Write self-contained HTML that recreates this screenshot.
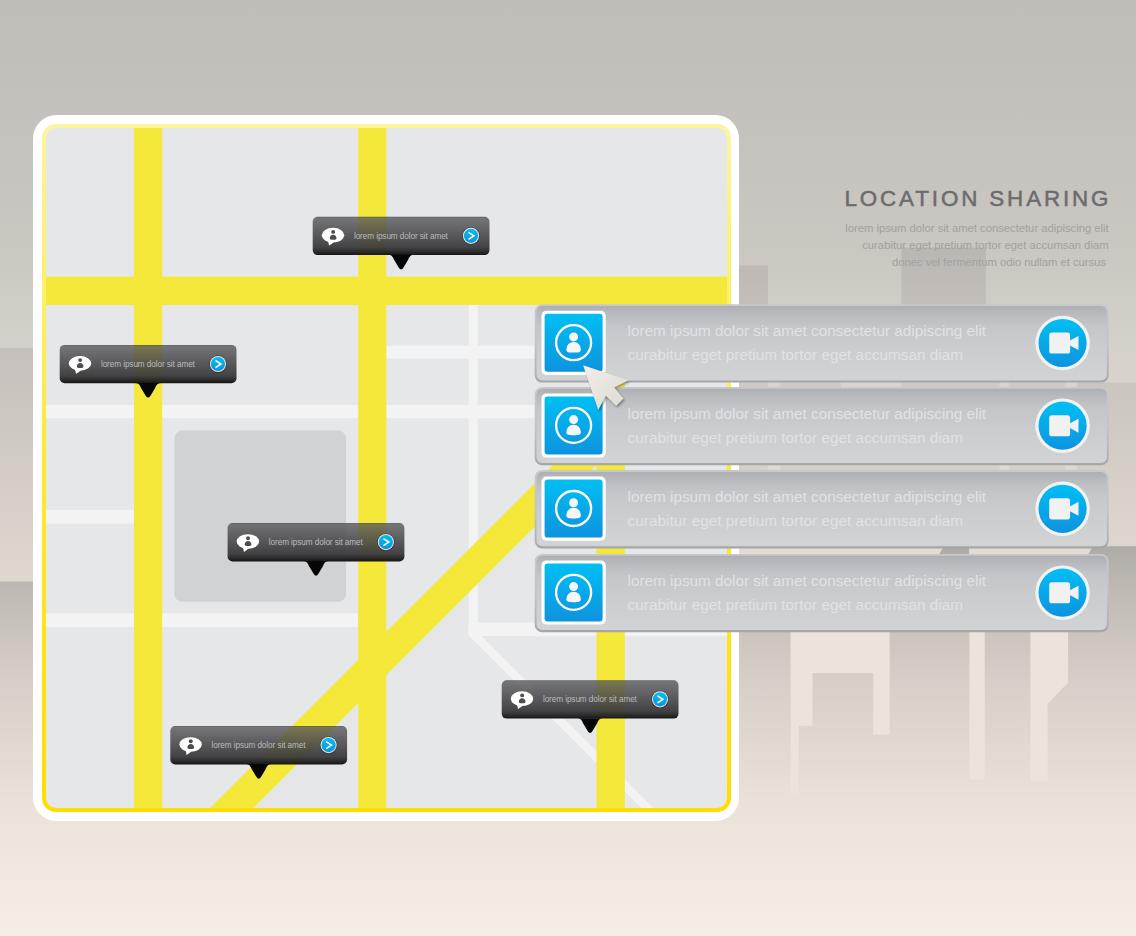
<!DOCTYPE html>
<html><head><meta charset="utf-8"><title>Location Sharing</title>
<style>
html,body{margin:0;padding:0;background:#d8d3cc;}
body{width:1136px;height:936px;overflow:hidden;font-family:'Liberation Sans', sans-serif;}
svg{display:block;}
</style></head>
<body>
<svg width="1136" height="936" viewBox="0 0 1136 936">
<defs>
<linearGradient id="sky" x1="0" y1="0" x2="0" y2="1">
  <stop offset="0" stop-color="#c0bcb7"/>
  <stop offset="0.1389" stop-color="#c5c1bc"/>
  <stop offset="0.2778" stop-color="#cbc7c1"/>
  <stop offset="0.3526" stop-color="#d3cfc9"/>
  <stop offset="0.406" stop-color="#d8d3cc"/>
  <stop offset="0.5833" stop-color="#e2dcd4"/>
  <stop offset="1" stop-color="#e2dcd4"/>
</linearGradient>
<linearGradient id="water" x1="0" y1="0" x2="0" y2="1">
  <stop offset="0.0" stop-color="#aeaaa6"/>
  <stop offset="0.0893" stop-color="#bcb7b1"/>
  <stop offset="0.2047" stop-color="#c9c3bd"/>
  <stop offset="0.3433" stop-color="#d6cfc7"/>
  <stop offset="0.5741" stop-color="#e5ddd4"/>
  <stop offset="0.6511" stop-color="#eae2d9"/>
  <stop offset="0.8307" stop-color="#f1e9e0"/>
  <stop offset="1.0" stop-color="#f6eee5"/>
</linearGradient>
<linearGradient id="bldL" x1="0" y1="0" x2="0" y2="1">
  <stop offset="0" stop-color="#c5c0bb"/>
  <stop offset="1" stop-color="#dfd8cf"/>
</linearGradient>
<linearGradient id="bldR" x1="0" y1="0" x2="0" y2="1">
  <stop offset="0" stop-color="#cac5bf"/>
  <stop offset="1" stop-color="#ded7cf"/>
</linearGradient>
<linearGradient id="bldS" gradientUnits="userSpaceOnUse" x1="0" y1="248" x2="0" y2="546">
  <stop offset="0" stop-color="#bbb6b1"/>
  <stop offset="0.46" stop-color="#cfcac4"/>
  <stop offset="0.735" stop-color="#d6d0c9"/>
  <stop offset="1" stop-color="#ddd6ce"/>
</linearGradient>
<linearGradient id="yborder" x1="0" y1="0" x2="0" y2="1">
  <stop offset="0" stop-color="#fdf4a0"/>
  <stop offset="0.5" stop-color="#ffea30"/>
  <stop offset="1" stop-color="#ffdd00"/>
</linearGradient>
<linearGradient id="callout" x1="0" y1="0" x2="0" y2="1">
  <stop offset="0" stop-color="#3c3c3e" stop-opacity="0.8"/>
  <stop offset="0.035" stop-color="#555558" stop-opacity="0.78"/>
  <stop offset="0.5" stop-color="#474749" stop-opacity="0.9"/>
  <stop offset="0.8" stop-color="#3a3a3c" stop-opacity="0.95"/>
  <stop offset="0.92" stop-color="#242425" stop-opacity="0.97"/>
  <stop offset="1" stop-color="#111112" stop-opacity="0.98"/>
</linearGradient>
<linearGradient id="blue" x1="0" y1="0" x2="0" y2="1">
  <stop offset="0" stop-color="#00bff3"/>
  <stop offset="1" stop-color="#0e93de"/>
</linearGradient>
<linearGradient id="panel" x1="0" y1="0" x2="0" y2="1">
  <stop offset="0" stop-color="#adafb3"/>
  <stop offset="0.1" stop-color="#b9babe"/>
  <stop offset="0.28" stop-color="#c5c6c9"/>
  <stop offset="0.55" stop-color="#cbccce"/>
  <stop offset="1" stop-color="#d2d3d5"/>
</linearGradient>
<linearGradient id="pborder" x1="0" y1="0" x2="0" y2="1">
  <stop offset="0" stop-color="#c6c8cb"/>
  <stop offset="0.5" stop-color="#c2c3c6"/>
  <stop offset="0.9" stop-color="#aeb0b3"/>
  <stop offset="1" stop-color="#a3a5a8"/>
</linearGradient>
<linearGradient id="cursorg" x1="0" y1="0" x2="1" y2="1">
  <stop offset="0" stop-color="#f1eee8"/>
  <stop offset="1" stop-color="#dddad4"/>
</linearGradient>
<clipPath id="mapclip"><rect x="46" y="128" width="681" height="680" rx="10" ry="10"/></clipPath>
<filter id="sh" x="-20%" y="-20%" width="140%" height="140%"><feGaussianBlur stdDeviation="1.2"/></filter>
</defs>
<rect x="0" y="0" width="1136" height="936" fill="url(#sky)"/>
<rect x="739" y="265.5" width="29" height="281" fill="url(#bldS)"/>
<rect x="901.5" y="247.6" width="84.5" height="299" fill="url(#bldS)"/>
<rect x="780.5" y="330" width="60.5" height="216.5" fill="url(#bldS)"/>
<rect x="986" y="330" width="13.4" height="216.5" fill="url(#bldS)"/>
<rect x="1009" y="330" width="56.4" height="216.5" fill="url(#bldS)"/>
<rect x="841" y="420" width="60.5" height="126.5" fill="url(#bldS)"/>
<rect x="1077" y="382.5" width="60" height="164" fill="url(#bldR)"/>
<rect x="0" y="546.2" width="1136" height="389.79999999999995" fill="url(#water)"/>
<rect x="0" y="348" width="60" height="233.5" fill="url(#bldL)"/>
<path d="M790.6 546 H889.7 V734.6 H873.2 V672.9 H812.5 V725.7 H798.8 V795.7 H790.6 Z" fill="#ece3da"/>
<rect x="969.4" y="546" width="15.4" height="233.5" fill="#ece3da"/>
<path d="M1030.4 546 H1068.1 V682.6 L1047.7 704 V781.3 H1030.4 Z" fill="#ece3da"/>
<polygon points="739,546.2 944,546.2 938,556 739,556" fill="#e4dcd3"/>
<polygon points="969.4,546.2 1093,546.2 1087,556 969.4,556" fill="#e4dcd3"/>
<rect x="33" y="115" width="706" height="706" rx="23.5" ry="23.5" fill="#ffffff"/>
<rect x="42" y="124" width="689" height="688" rx="14" ry="14" fill="url(#yborder)"/>
<rect x="46" y="128" width="681" height="680" rx="10" ry="10" fill="#e6e7e8"/>
<g clip-path="url(#mapclip)">
<rect x="386" y="345.7" width="400" height="12.9" fill="#f3f3f4"/>
<rect x="40" y="405" width="700" height="13.3" fill="#f3f3f4"/>
<rect x="40" y="510" width="94" height="13.6" fill="#f3f3f4"/>
<rect x="40" y="613.4" width="318" height="13.6" fill="#f3f3f4"/>
<rect x="468.7" y="300" width="8.9" height="335.5" fill="#f3f3f4"/>
<rect x="468.7" y="622.5" width="300" height="13.7" fill="#f3f3f4"/>
<polygon points="468.7,622.5 481.7,636.2 700,854.5 700,866.8 468.7,635.5" fill="#f3f3f4"/>
<rect x="174.4" y="430.6" width="171.7" height="171.2" rx="8" ry="8" fill="#d1d2d4"/>
<rect x="134" y="120" width="28.2" height="700" fill="#f4e93b"/>
<rect x="358.2" y="120" width="28.1" height="700" fill="#f4e93b"/>
<rect x="40" y="276.6" width="700" height="28.4" fill="#f4e93b"/>
<rect x="596.4" y="300" width="28.5" height="520" fill="#f4e93b"/>
<polygon points="597,421 625,393 625,436.5 201.5,860 158,860" fill="#f4e93b"/>
</g>
<g transform="translate(312.7,216.7)"><rect x="0" y="0" width="176.8" height="38.4" rx="5" ry="5" fill="url(#callout)"/><path transform="translate(88.4,38.0)" d="M-12.5 0 C-9 0.3 -8.2 2.5 -6.9 5.3 L-2.4 12.8 Q0 16.6 2.4 12.8 L6.9 5.3 C8.2 2.5 9 0.3 12.5 0 Z" fill="#060606"/><ellipse cx="20.3" cy="18.5" rx="11.2" ry="7.35" fill="#ffffff"/><path d="M14 22.8 Q16.5 26.5 16.3 28.9 Q19.5 27.2 22 24.6 Z" fill="#ffffff"/><circle cx="20.45" cy="15.2" r="1.95" fill="#4d4d4f"/><path d="M17.1 21.6 C17.1 19.4 18.6 18.1 20.45 18.1 C22.3 18.1 23.8 19.4 23.8 21.6 C23.8 22.8 22.6 23.1 20.45 23.1 C18.3 23.1 17.1 22.8 17.1 21.6 Z" fill="#4d4d4f"/><text x="41.2" y="22" font-family="'Liberation Sans', sans-serif" font-size="8.2" fill="#b9babc" textLength="94" lengthAdjust="spacing">lorem ipsum dolor sit amet</text><circle cx="158.3" cy="19.1" r="8.9" fill="#000000" opacity="0.3"/><circle cx="158.3" cy="19.1" r="8.1" fill="#e9e6e4"/><circle cx="158.3" cy="19.1" r="7.1" fill="url(#blue)"/><path d="M155.8 15.6 L161.2 19.1 L155.8 22.7" fill="none" stroke="#ffffff" stroke-width="1.6" stroke-linejoin="miter"/></g>
<g transform="translate(59.7,344.9)"><rect x="0" y="0" width="176.8" height="38.4" rx="5" ry="5" fill="url(#callout)"/><path transform="translate(88.4,38.0)" d="M-12.5 0 C-9 0.3 -8.2 2.5 -6.9 5.3 L-2.4 12.8 Q0 16.6 2.4 12.8 L6.9 5.3 C8.2 2.5 9 0.3 12.5 0 Z" fill="#060606"/><ellipse cx="20.3" cy="18.5" rx="11.2" ry="7.35" fill="#ffffff"/><path d="M14 22.8 Q16.5 26.5 16.3 28.9 Q19.5 27.2 22 24.6 Z" fill="#ffffff"/><circle cx="20.45" cy="15.2" r="1.95" fill="#4d4d4f"/><path d="M17.1 21.6 C17.1 19.4 18.6 18.1 20.45 18.1 C22.3 18.1 23.8 19.4 23.8 21.6 C23.8 22.8 22.6 23.1 20.45 23.1 C18.3 23.1 17.1 22.8 17.1 21.6 Z" fill="#4d4d4f"/><text x="41.2" y="22" font-family="'Liberation Sans', sans-serif" font-size="8.2" fill="#b9babc" textLength="94" lengthAdjust="spacing">lorem ipsum dolor sit amet</text><circle cx="158.3" cy="19.1" r="8.9" fill="#000000" opacity="0.3"/><circle cx="158.3" cy="19.1" r="8.1" fill="#e9e6e4"/><circle cx="158.3" cy="19.1" r="7.1" fill="url(#blue)"/><path d="M155.8 15.6 L161.2 19.1 L155.8 22.7" fill="none" stroke="#ffffff" stroke-width="1.6" stroke-linejoin="miter"/></g>
<g transform="translate(227.6,523.0)"><rect x="0" y="0" width="176.8" height="38.4" rx="5" ry="5" fill="url(#callout)"/><path transform="translate(88.4,38.0)" d="M-12.5 0 C-9 0.3 -8.2 2.5 -6.9 5.3 L-2.4 12.8 Q0 16.6 2.4 12.8 L6.9 5.3 C8.2 2.5 9 0.3 12.5 0 Z" fill="#060606"/><ellipse cx="20.3" cy="18.5" rx="11.2" ry="7.35" fill="#ffffff"/><path d="M14 22.8 Q16.5 26.5 16.3 28.9 Q19.5 27.2 22 24.6 Z" fill="#ffffff"/><circle cx="20.45" cy="15.2" r="1.95" fill="#4d4d4f"/><path d="M17.1 21.6 C17.1 19.4 18.6 18.1 20.45 18.1 C22.3 18.1 23.8 19.4 23.8 21.6 C23.8 22.8 22.6 23.1 20.45 23.1 C18.3 23.1 17.1 22.8 17.1 21.6 Z" fill="#4d4d4f"/><text x="41.2" y="22" font-family="'Liberation Sans', sans-serif" font-size="8.2" fill="#b9babc" textLength="94" lengthAdjust="spacing">lorem ipsum dolor sit amet</text><circle cx="158.3" cy="19.1" r="8.9" fill="#000000" opacity="0.3"/><circle cx="158.3" cy="19.1" r="8.1" fill="#e9e6e4"/><circle cx="158.3" cy="19.1" r="7.1" fill="url(#blue)"/><path d="M155.8 15.6 L161.2 19.1 L155.8 22.7" fill="none" stroke="#ffffff" stroke-width="1.6" stroke-linejoin="miter"/></g>
<g transform="translate(501.7,680.2)"><rect x="0" y="0" width="176.8" height="38.4" rx="5" ry="5" fill="url(#callout)"/><path transform="translate(88.4,38.0)" d="M-12.5 0 C-9 0.3 -8.2 2.5 -6.9 5.3 L-2.4 12.8 Q0 16.6 2.4 12.8 L6.9 5.3 C8.2 2.5 9 0.3 12.5 0 Z" fill="#060606"/><ellipse cx="20.3" cy="18.5" rx="11.2" ry="7.35" fill="#ffffff"/><path d="M14 22.8 Q16.5 26.5 16.3 28.9 Q19.5 27.2 22 24.6 Z" fill="#ffffff"/><circle cx="20.45" cy="15.2" r="1.95" fill="#4d4d4f"/><path d="M17.1 21.6 C17.1 19.4 18.6 18.1 20.45 18.1 C22.3 18.1 23.8 19.4 23.8 21.6 C23.8 22.8 22.6 23.1 20.45 23.1 C18.3 23.1 17.1 22.8 17.1 21.6 Z" fill="#4d4d4f"/><text x="41.2" y="22" font-family="'Liberation Sans', sans-serif" font-size="8.2" fill="#b9babc" textLength="94" lengthAdjust="spacing">lorem ipsum dolor sit amet</text><circle cx="158.3" cy="19.1" r="8.9" fill="#000000" opacity="0.3"/><circle cx="158.3" cy="19.1" r="8.1" fill="#e9e6e4"/><circle cx="158.3" cy="19.1" r="7.1" fill="url(#blue)"/><path d="M155.8 15.6 L161.2 19.1 L155.8 22.7" fill="none" stroke="#ffffff" stroke-width="1.6" stroke-linejoin="miter"/></g>
<g transform="translate(170.3,726.0)"><rect x="0" y="0" width="176.8" height="38.4" rx="5" ry="5" fill="url(#callout)"/><path transform="translate(88.4,38.0)" d="M-12.5 0 C-9 0.3 -8.2 2.5 -6.9 5.3 L-2.4 12.8 Q0 16.6 2.4 12.8 L6.9 5.3 C8.2 2.5 9 0.3 12.5 0 Z" fill="#060606"/><ellipse cx="20.3" cy="18.5" rx="11.2" ry="7.35" fill="#ffffff"/><path d="M14 22.8 Q16.5 26.5 16.3 28.9 Q19.5 27.2 22 24.6 Z" fill="#ffffff"/><circle cx="20.45" cy="15.2" r="1.95" fill="#4d4d4f"/><path d="M17.1 21.6 C17.1 19.4 18.6 18.1 20.45 18.1 C22.3 18.1 23.8 19.4 23.8 21.6 C23.8 22.8 22.6 23.1 20.45 23.1 C18.3 23.1 17.1 22.8 17.1 21.6 Z" fill="#4d4d4f"/><text x="41.2" y="22" font-family="'Liberation Sans', sans-serif" font-size="8.2" fill="#b9babc" textLength="94" lengthAdjust="spacing">lorem ipsum dolor sit amet</text><circle cx="158.3" cy="19.1" r="8.9" fill="#000000" opacity="0.3"/><circle cx="158.3" cy="19.1" r="8.1" fill="#e9e6e4"/><circle cx="158.3" cy="19.1" r="7.1" fill="url(#blue)"/><path d="M155.8 15.6 L161.2 19.1 L155.8 22.7" fill="none" stroke="#ffffff" stroke-width="1.6" stroke-linejoin="miter"/></g>
<g transform="translate(534.7,304.3)"><rect x="0" y="0" width="574.0" height="78.3" rx="7.5" ry="7.5" fill="url(#pborder)"/><rect x="1.8" y="1.8" width="570.4" height="74.3" rx="6" ry="6" fill="url(#panel)"/><rect x="6.8" y="6.4" width="64.2" height="64.2" rx="5" ry="5" fill="#ffffff"/><rect x="9.9" y="9.5" width="58" height="58" rx="3.2" ry="3.2" fill="url(#blue)"/><circle cx="38.9" cy="38.4" r="17.5" fill="none" stroke="#ffffff" stroke-width="2.3"/><circle cx="38.9" cy="32.6" r="4.5" fill="#f6f6f7"/><path transform="translate(38.9,38.4)" d="M-7.2 7.2 C-7.2 2.2 -4 -0.7 0 -0.7 C4 -0.7 7.2 2.2 7.2 7.2 C7.2 9.3 5 9.9 0 9.9 C-5 9.9 -7.2 9.3 -7.2 7.2 Z" fill="#f6f6f7"/><text x="92.9" y="31.7" font-family="'Liberation Sans', sans-serif" font-size="15.3" fill="#e1e2e4" textLength="358.5" lengthAdjust="spacing">lorem ipsum dolor sit amet consectetur adipiscing elit</text><text x="92.9" y="55.6" font-family="'Liberation Sans', sans-serif" font-size="15.3" fill="#e1e2e4" textLength="335.5" lengthAdjust="spacing">curabitur eget pretium tortor eget accumsan diam</text><circle cx="527.9" cy="38.7" r="27.3" fill="#f2f2f3"/><circle cx="527.9" cy="38.7" r="24.1" fill="url(#blue)"/><rect x="514.5" y="28.2" width="20.9" height="21.1" rx="2.6" ry="2.6" fill="#f1f1f2"/><polygon points="535.2,36.3 543.8,31.7 543.8,45.7 535.2,41.1" fill="#f1f1f2"/></g>
<g transform="translate(534.7,387.0)"><rect x="0" y="0" width="574.0" height="78.3" rx="7.5" ry="7.5" fill="url(#pborder)"/><rect x="1.8" y="1.8" width="570.4" height="74.3" rx="6" ry="6" fill="url(#panel)"/><rect x="6.8" y="6.4" width="64.2" height="64.2" rx="5" ry="5" fill="#ffffff"/><rect x="9.9" y="9.5" width="58" height="58" rx="3.2" ry="3.2" fill="url(#blue)"/><circle cx="38.9" cy="38.4" r="17.5" fill="none" stroke="#ffffff" stroke-width="2.3"/><circle cx="38.9" cy="32.6" r="4.5" fill="#f6f6f7"/><path transform="translate(38.9,38.4)" d="M-7.2 7.2 C-7.2 2.2 -4 -0.7 0 -0.7 C4 -0.7 7.2 2.2 7.2 7.2 C7.2 9.3 5 9.9 0 9.9 C-5 9.9 -7.2 9.3 -7.2 7.2 Z" fill="#f6f6f7"/><text x="92.9" y="31.7" font-family="'Liberation Sans', sans-serif" font-size="15.3" fill="#e1e2e4" textLength="358.5" lengthAdjust="spacing">lorem ipsum dolor sit amet consectetur adipiscing elit</text><text x="92.9" y="55.6" font-family="'Liberation Sans', sans-serif" font-size="15.3" fill="#e1e2e4" textLength="335.5" lengthAdjust="spacing">curabitur eget pretium tortor eget accumsan diam</text><circle cx="527.9" cy="38.7" r="27.3" fill="#f2f2f3"/><circle cx="527.9" cy="38.7" r="24.1" fill="url(#blue)"/><rect x="514.5" y="28.2" width="20.9" height="21.1" rx="2.6" ry="2.6" fill="#f1f1f2"/><polygon points="535.2,36.3 543.8,31.7 543.8,45.7 535.2,41.1" fill="#f1f1f2"/></g>
<g transform="translate(534.7,470.1)"><rect x="0" y="0" width="574.0" height="78.3" rx="7.5" ry="7.5" fill="url(#pborder)"/><rect x="1.8" y="1.8" width="570.4" height="74.3" rx="6" ry="6" fill="url(#panel)"/><rect x="6.8" y="6.4" width="64.2" height="64.2" rx="5" ry="5" fill="#ffffff"/><rect x="9.9" y="9.5" width="58" height="58" rx="3.2" ry="3.2" fill="url(#blue)"/><circle cx="38.9" cy="38.4" r="17.5" fill="none" stroke="#ffffff" stroke-width="2.3"/><circle cx="38.9" cy="32.6" r="4.5" fill="#f6f6f7"/><path transform="translate(38.9,38.4)" d="M-7.2 7.2 C-7.2 2.2 -4 -0.7 0 -0.7 C4 -0.7 7.2 2.2 7.2 7.2 C7.2 9.3 5 9.9 0 9.9 C-5 9.9 -7.2 9.3 -7.2 7.2 Z" fill="#f6f6f7"/><text x="92.9" y="31.7" font-family="'Liberation Sans', sans-serif" font-size="15.3" fill="#e1e2e4" textLength="358.5" lengthAdjust="spacing">lorem ipsum dolor sit amet consectetur adipiscing elit</text><text x="92.9" y="55.6" font-family="'Liberation Sans', sans-serif" font-size="15.3" fill="#e1e2e4" textLength="335.5" lengthAdjust="spacing">curabitur eget pretium tortor eget accumsan diam</text><circle cx="527.9" cy="38.7" r="27.3" fill="#f2f2f3"/><circle cx="527.9" cy="38.7" r="24.1" fill="url(#blue)"/><rect x="514.5" y="28.2" width="20.9" height="21.1" rx="2.6" ry="2.6" fill="#f1f1f2"/><polygon points="535.2,36.3 543.8,31.7 543.8,45.7 535.2,41.1" fill="#f1f1f2"/></g>
<g transform="translate(534.7,554.0)"><rect x="0" y="0" width="574.0" height="78.3" rx="7.5" ry="7.5" fill="url(#pborder)"/><rect x="1.8" y="1.8" width="570.4" height="74.3" rx="6" ry="6" fill="url(#panel)"/><rect x="6.8" y="6.4" width="64.2" height="64.2" rx="5" ry="5" fill="#ffffff"/><rect x="9.9" y="9.5" width="58" height="58" rx="3.2" ry="3.2" fill="url(#blue)"/><circle cx="38.9" cy="38.4" r="17.5" fill="none" stroke="#ffffff" stroke-width="2.3"/><circle cx="38.9" cy="32.6" r="4.5" fill="#f6f6f7"/><path transform="translate(38.9,38.4)" d="M-7.2 7.2 C-7.2 2.2 -4 -0.7 0 -0.7 C4 -0.7 7.2 2.2 7.2 7.2 C7.2 9.3 5 9.9 0 9.9 C-5 9.9 -7.2 9.3 -7.2 7.2 Z" fill="#f6f6f7"/><text x="92.9" y="31.7" font-family="'Liberation Sans', sans-serif" font-size="15.3" fill="#e1e2e4" textLength="358.5" lengthAdjust="spacing">lorem ipsum dolor sit amet consectetur adipiscing elit</text><text x="92.9" y="55.6" font-family="'Liberation Sans', sans-serif" font-size="15.3" fill="#e1e2e4" textLength="335.5" lengthAdjust="spacing">curabitur eget pretium tortor eget accumsan diam</text><circle cx="527.9" cy="38.7" r="27.3" fill="#f2f2f3"/><circle cx="527.9" cy="38.7" r="24.1" fill="url(#blue)"/><rect x="514.5" y="28.2" width="20.9" height="21.1" rx="2.6" ry="2.6" fill="#f1f1f2"/><polygon points="535.2,36.3 543.8,31.7 543.8,45.7 535.2,41.1" fill="#f1f1f2"/></g>
<polygon points="583.1,365.3 628.7,380.3 614.2,387.4 623.5,398.6 616.2,406 605.9,395.7 598.2,410.1" fill="#000" opacity="0.35" filter="url(#sh)" transform="translate(1.2,1.6)"/>
<polygon points="583.1,365.3 628.7,380.3 614.2,387.4 623.5,398.6 616.2,406 605.9,395.7 598.2,410.1" fill="url(#cursorg)"/>
<text x="844.5" y="206.2" font-family="'Liberation Sans', sans-serif" font-size="22.4" fill="#6b6c6f" stroke="#6b6c6f" stroke-width="0.5" textLength="264" lengthAdjust="spacing">LOCATION SHARING</text>
<text x="845.3" y="232.3" font-family="'Liberation Sans', sans-serif" font-size="11.3" fill="#a3a19f" textLength="263.3" lengthAdjust="spacing">lorem ipsum dolor sit amet consectetur adipiscing elit</text>
<text x="862.2" y="249.2" font-family="'Liberation Sans', sans-serif" font-size="11.3" fill="#a3a19f" textLength="246.4" lengthAdjust="spacing">curabitur eget pretium tortor eget accumsan diam</text>
<text x="892" y="265.9" font-family="'Liberation Sans', sans-serif" font-size="11.3" fill="#a3a19f" textLength="214" lengthAdjust="spacing">donec vel fermentum odio nullam et cursus</text>
</svg>
</body></html>
